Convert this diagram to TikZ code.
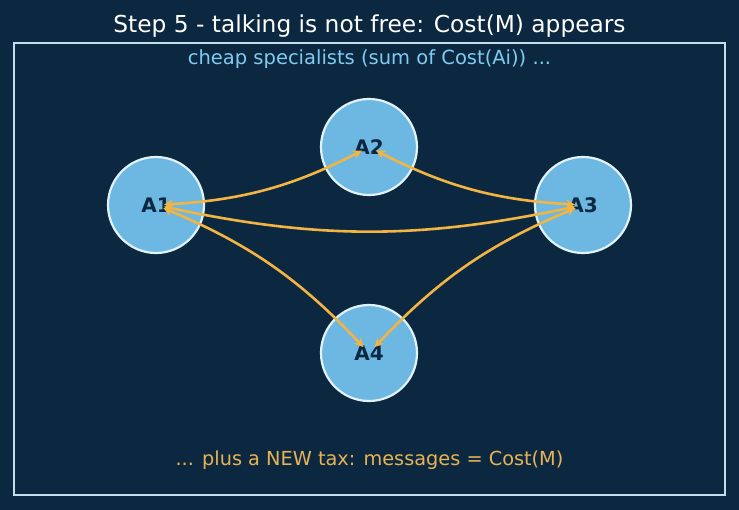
\documentclass[tikz,border=0pt]{standalone}
\usepackage{fontspec}
\setmainfont{DejaVu Sans}
\usetikzlibrary{arrows.meta}
\definecolor{bg}{HTML}{0C2840}
\definecolor{framec}{HTML}{C6DDEC}
\definecolor{nodefill}{HTML}{6CB8E2}
\definecolor{nodeedge}{HTML}{E2F2FB}
\definecolor{arrowc}{HTML}{F2B544}
\definecolor{subc}{HTML}{7FCCF0}
\definecolor{botc}{HTML}{E8B354}
\definecolor{labc}{HTML}{0C2840}
\tikzset{
  agent/.style={circle, minimum size=96pt, inner sep=0pt, fill=nodefill, draw=nodeedge, line width=2.2pt, text=labc, font=\fontsize{20}{23}\selectfont\bfseries},
  link/.style={draw=arrowc, line width=2.6pt, {Stealth[length=9pt,width=9pt]}-{Stealth[length=9pt,width=9pt]}, shorten <=8pt, shorten >=8pt, bend right=12},
}
\begin{document}
\begin{tikzpicture}[x=1pt,y=-1pt]
\fill[bg] (0,0) rectangle (739,510);
\useasboundingbox (0,0) rectangle (739,510);
\node[draw=framec, line width=2pt, minimum width=711pt, minimum height=452pt, inner sep=0pt] (frame) at (369.5,269) {};
\node[text=white, font=\fontsize{23.3}{27}\selectfont] (title) at (369.5,26) {Step 5 - talking is not free: Cost(M) appears};
\node[text=subc, font=\fontsize{19.5}{23}\selectfont] (sub) at (369.5,59) {cheap specialists (sum of Cost(Ai)) ...};
\node[text=botc, font=\fontsize{19.3}{23}\selectfont] (bot) at (369.5,460) {... plus a NEW tax: messages = Cost(M)};
\node[agent] (A1) at (156,205) {A1};
\node[agent] (A2) at (369,147) {A2};
\node[agent] (A3) at (583,205) {A3};
\node[agent] (A4) at (369,353) {A4};
\draw[link] (A1.center) to (A2.center);
\draw[link] (A2.center) to (A3.center);
\draw[link] (A1.center) to (A3.center);
\draw[link, bend right=-12] (A1.center) to (A4.center);
\draw[link] (A3.center) to (A4.center);
\end{tikzpicture}
\end{document}
